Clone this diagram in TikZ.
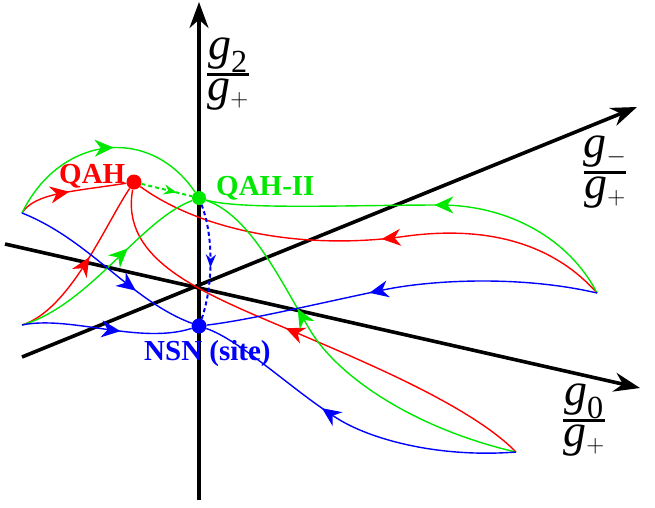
\documentclass[tikz,border=0pt]{standalone}
\usepackage{amsmath}
\usepackage{fontspec}
\setmainfont{Liberation Serif}
\usetikzlibrary{arrows.meta,decorations.markings}
\definecolor{flowred}{RGB}{255,0,0}
\definecolor{flowgreen}{RGB}{0,232,0}
\definecolor{flowblue}{RGB}{0,0,255}
\newcommand{\gratio}[1]{{\fontsize{46}{46}\selectfont\setlength{\arrayrulewidth}{2.5pt}\renewcommand{\arraystretch}{0.78}%
  \begin{tabular}{@{}c@{}}\textit{g}$_{#1}$\\[3pt]\hline\textit{g}$_{+}$\end{tabular}}}

\begin{document}
\begin{tikzpicture}[x=1pt,y=-1pt,>=Stealth]
  \tikzset{
    axis/.style={line width=3.6pt,-{Stealth[length=26pt,width=19pt]}},
    flow/.style={line width=1.4pt,postaction={decorate,decoration={markings,mark=at position #1 with {\arrow{Stealth[length=19pt,width=17pt,inset=6pt]}}}}},
    jump/.style={line width=2pt,dash pattern=on 4pt off 3pt,postaction={decorate,decoration={markings,mark=at position #1 with {\arrow{Stealth[length=13pt,width=10pt]}}}}},
    dot/.style={circle,fill=#1,inner sep=0pt,minimum size=15pt},
    fplabel/.style={font=\fontsize{29}{29}\selectfont\bfseries,inner sep=0pt,anchor=base west}
  }
  \useasboundingbox (0,0) rectangle (655,507);
  \coordinate (zb) at (199,500);
  \coordinate (zt) at (199,2);
  \coordinate (xa) at (5,244);
  \coordinate (xb) at (640,388);
  \coordinate (ya) at (22,357);
  \coordinate (yb) at (637,107);
  \coordinate (ul) at (22,213);
  \coordinate (ll) at (22,325);
  \coordinate (ur) at (597,293);
  \coordinate (lr) at (516,452);
  \draw[axis] (zb) -- (zt);
  \draw[axis] (xa) -- (xb);
  \draw[axis] (ya) -- (yb);
  \node[inner sep=0pt] (g2lab) at (228,73) {\gratio{\textrm{2}}};
  \node[inner sep=0pt] (gmlab) at (605,171) {\gratio{-}};
  \node[inner sep=0pt] (g0lab) at (584,419) {\gratio{\textrm{0}}};
  \node[dot=flowred] (qah) at (134,182) {};
  \node[dot=flowgreen,minimum size=14pt] (qah2) at (199,198) {};
  \node[dot=flowblue] (nsn) at (199,326) {};
  \node[fplabel,text=flowred] (qahlab) at (59,183) {QAH};
  \node[fplabel,text=flowgreen] (qah2lab) at (216,195) {QAH-II};
  \node[fplabel,text=flowblue] (nsnlab) at (144,360) {NSN (site)};
  \draw[flow=0.48,flowred] (ul) .. controls (35,193) and (70,192) .. (qah);
  \draw[flow=0.55,flowred] (ll) .. controls (70,310) and (105,225) .. (qah);
  \draw[flow=0.48,flowred] (ur) .. controls (550,240) and (480,225) .. (400,237) .. controls (300,250) and (200,230) .. (qah);
  \draw[flow=0.54,flowred] (lr) .. controls (470,405) and (360,360) .. (290,330) .. controls (200,292) and (120,260) .. (qah);
  \draw[flow=0.55,flowgreen] (ul) .. controls (60,135) and (150,125) .. (qah2);
  \draw[flow=0.62,flowgreen] (ll) .. controls (90,305) and (140,220) .. (qah2);
  \draw[flow=0.46,flowgreen] (ur) .. controls (570,240) and (510,205) .. (440,205) .. controls (350,205) and (240,210) .. (qah2);
  \draw[flow=0.65,flowgreen] (lr) .. controls (420,430) and (340,380) .. (310,330) .. controls (280,280) and (250,215) .. (qah2);
  \draw[flow=0.68,flowblue] (ul) .. controls (90,240) and (130,300) .. (nsn);
  \draw[flow=0.58,flowblue] (ll) .. controls (70,315) and (140,345) .. (nsn);
  \draw[flow=0.58,flowblue] (ur) .. controls (520,275) and (430,280) .. (383,290) .. controls (320,303) and (250,320) .. (nsn);
  \draw[flow=0.59,flowblue] (lr) .. controls (440,458) and (370,440) .. (335,417) .. controls (290,388) and (240,340) .. (nsn);
  \draw[jump=0.7,flowgreen] (qah) -- (qah2);
  \draw[jump=0.55,flowblue] (qah2) .. controls (215,240) and (212,290) .. (nsn);
\end{tikzpicture}
\end{document}
